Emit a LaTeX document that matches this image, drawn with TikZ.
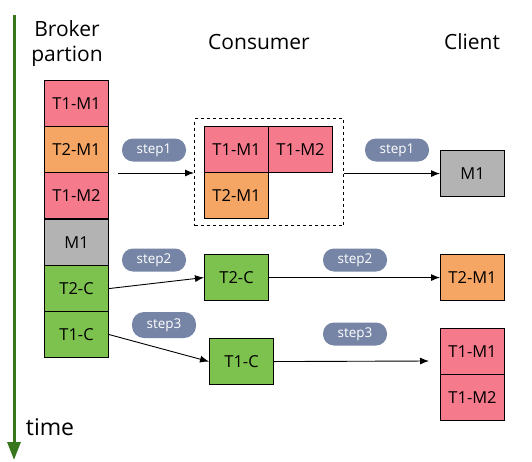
\documentclass[tikz,border=0pt]{standalone}
\usepackage{fontspec}
\setmainfont{Open Sans}
\usetikzlibrary{arrows.meta}
\definecolor{pinkc}{RGB}{245,123,140}
\definecolor{orangec}{RGB}{245,165,100}
\definecolor{grayc}{RGB}{179,179,179}
\definecolor{greenc}{RGB}{125,194,78}
\definecolor{pillc}{RGB}{118,133,166}
\definecolor{timec}{RGB}{56,118,29}
\begin{document}
\begin{tikzpicture}[x=1pt,y=-1pt,
  cell/.style={draw=black, line width=1.1pt, minimum width=64pt, minimum height=46pt,
    inner sep=0pt, font=\fontsize{16.5}{19}\selectfont, anchor=north west},
  pinkcell/.style={cell, fill=pinkc},
  orangecell/.style={cell, fill=orangec},
  graycell/.style={cell, fill=grayc},
  greencell/.style={cell, fill=greenc},
  pill/.style={fill=pillc, text=white, rounded corners=11pt, minimum width=64pt,
    minimum height=23pt, inner sep=0pt, font=\fontsize{13.5}{15}\selectfont},
  title/.style={font=\fontsize{21}{25}\selectfont, inner sep=0pt, align=center},
  conn/.style={draw=black, line width=0.9pt, -{Latex[length=9pt,width=7pt]}}
]
\useasboundingbox (0,0) rectangle (532,461);
% time axis
\coordinate (t0) at (14,15);
\coordinate (t1) at (14,460);
\draw[timec, line width=3pt, -{Triangle[length=18pt,width=13pt]}] (t0) -- (t1);
\node[font=\fontsize{23}{27}\selectfont, inner sep=0pt] (time) at (50,427) {time};
% titles
\node[title] (tbroker) at (67,44) {Broker\\partion};
\node[title] (tcons) at (259,42) {Consumer};
\node[title] (tclient) at (472,42) {Client};
% broker column
\node[pinkcell] (b1) at (44,80) {T1-M1};
\node[orangecell] (b2) at (44,126) {T2-M1};
\node[pinkcell] (b3) at (44,172) {T1-M2};
\node[graycell] (b4) at (44,219) {M1};
\node[greencell] (b5) at (44,265) {T2-C};
\node[greencell] (b6) at (44,311) {T1-C};
% consumer step1 group
\node[draw=black, dashed, line width=1pt, minimum width=149pt, minimum height=107pt,
  inner sep=0pt, anchor=north west] (dbox) at (194,118) {};
\node[pinkcell] (c1) at (204,126) {T1-M1};
\node[pinkcell] (c2) at (268,126) {T1-M2};
\node[orangecell] (c3) at (204,172) {T2-M1};
% consumer singles
\node[greencell] (c4) at (204,254) {T2-C};
\node[greencell] (c5) at (209,338) {T1-C};
% client
\node[graycell] (k1) at (440,150) {M1};
\node[orangecell] (k2) at (440,254) {T2-M1};
\node[pinkcell] (k3) at (440,328) {T1-M1};
\node[pinkcell] (k4) at (440,374) {T1-M2};
% pills
\node[pill] (p1a) at (154,150) {step1};
\node[pill] (p1b) at (397,150) {step1};
\node[pill] (p2a) at (154,260) {step2};
\node[pill] (p2b) at (355,260) {step2};
\node[pill, minimum height=26pt, rounded corners=12pt] (p3a) at (164,325) {step3};
\node[pill] (p3b) at (355,334) {step3};
% connectors
\coordinate (s1) at (118,173);
\coordinate (e3) at (429,361);
\draw[conn] (s1) -- (dbox.west |- s1);
\draw[conn] (dbox.east |- k1.west) -- (k1.west);
\draw[conn] (b5.east) -- (c4.west);
\draw[conn] (c4.east) -- (k2.west);
\draw[conn] (b6.east) -- (c5.west);
\draw[conn] (c5.east) -- (e3);
\end{tikzpicture}
\end{document}
